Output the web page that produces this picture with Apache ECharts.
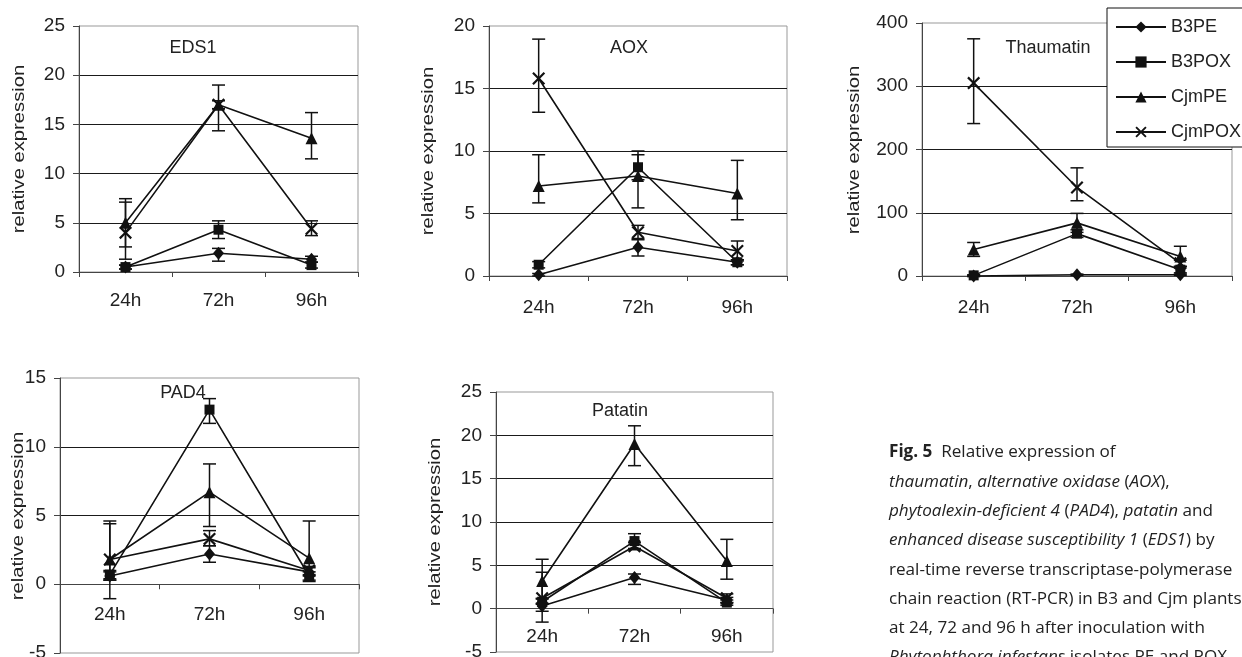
<!DOCTYPE html>
<html>
<head>
<meta charset="utf-8">
<script src="https://cdn.jsdelivr.net/npm/echarts@6/dist/echarts.min.js"></script>
<style>
html,body{margin:0;padding:0;background:#fff;}
#chart{width:1242px;height:657px;}
</style>
</head>
<body>
<div id="chart"></div>
<script>
// ---------- DATA ----------
const categories = ['24h', '72h', '96h'];
const seriesNames = ['B3PE', 'B3POX', 'CjmPE', 'CjmPOX'];

// EDS1
const eds1Values   = [[0.5, 1.9, 1.3], [0.5, 4.3, 0.7], [5.0, 17.0, 13.6], [4.0, 17.0, 4.4]];
const eds1ErrUp    = [[0.2, 0.5, 0.3], [0.2, 0.9, 0.3], [2.45, 2.0, 2.6], [3.1, 0.4, 0.8]];
const eds1ErrDown  = [[0.2, 0.8, 0.3], [0.2, 0.9, 0.3], [2.45, 2.65, 2.1], [2.7, 0.4, 0.7]];
const eds1Ticks    = [0, 25, 5];

// AOX
const aoxValues    = [[0.1, 2.3, 1.1], [0.9, 8.7, 1.1], [7.2, 8.0, 6.6], [15.8, 3.5, 2.0]];
const aoxErrUp     = [[0.1, 0.6, 0.2], [0.25, 1.0, 0.2], [2.5, 2.0, 2.65], [3.15, 0.55, 0.8]];
const aoxErrDown   = [[0.1, 0.7, 0.2], [0.25, 1.0, 0.2], [1.35, 2.55, 2.1], [2.7, 0.5, 0.8]];
const aoxTicks     = [0, 20, 5];

// Thaumatin
const thaumValues  = [[0, 2, 2], [1, 67, 10], [42, 84, 31], [305, 140, 20]];
const thaumErrUp   = [[1, 1, 1], [1, 6, 5], [11, 15, 16], [70, 31, 5]];
const thaumErrDown = [[1, 1, 1], [1, 6, 5], [11, 15, 16], [64, 21, 5]];
const thaumTicks   = [0, 400, 100];

// PAD4
const pad4Values   = [[0.6, 2.2, 0.9], [0.7, 12.7, 0.6], [1.8, 6.7, 1.9], [1.8, 3.3, 1.0]];
const pad4ErrUp    = [[0.3, 0.6, 0.3], [0.3, 0.8, 0.3], [2.8, 2.05, 2.7], [2.6, 0.6, 0.3]];
const pad4ErrDown  = [[1.65, 0.6, 0.3], [0.3, 1.0, 0.3], [1.5, 2.5, 1.7], [1.5, 0.5, 0.3]];
const pad4Ticks    = [-5, 15, 5];

// Patatin
const patValues    = [[0.3, 3.6, 1.0], [0.8, 7.8, 0.7], [3.2, 19.0, 5.5], [1.2, 7.2, 1.2]];
const patErrUp     = [[0.3, 0.4, 0.3], [0.3, 0.85, 0.3], [2.5, 2.1, 2.5], [3.0, 0.4, 0.5]];
const patErrDown   = [[1.85, 0.8, 0.3], [0.3, 0.85, 0.3], [2.0, 2.5, 2.1], [1.5, 0.4, 0.5]];
const patTicks     = [-5, 25, 5];

const captionLines = [
  '{b|Fig. 5}  Relative expression of',
  '{i|thaumatin}, {i|alternative oxidase} ({i|AOX}),',
  '{i|phytoalexin-deficient 4} ({i|PAD4}), {i|patatin} and',
  '{i|enhanced disease susceptibility 1} ({i|EDS1}) by',
  'real-time reverse transcriptase-polymerase',
  'chain reaction (RT-PCR) in B3 and Cjm plants',
  'at 24, 72 and 96 h after inoculation with',
  '{i|Phytophthora infestans} isolates PE and POX'
];

// ---------- LAYOUT ----------
const FONT = "'Liberation Sans', Arial, sans-serif";
const CAP_FONT = "'Open Sans', sans-serif";
const INK = '#111';
const panels = [
  {title: 'EDS1', values: eds1Values, up: eds1ErrUp, down: eds1ErrDown, ticks: eds1Ticks,
   grid: {left: 79, top: 26, width: 279, height: 246}, titlePos: [193, 48], yNamePos: [20, 149], xMargin: 19},
  {title: 'AOX', values: aoxValues, up: aoxErrUp, down: aoxErrDown, ticks: aoxTicks,
   grid: {left: 489, top: 26, width: 298, height: 250}, titlePos: [629, 48], yNamePos: [429, 151], xMargin: 22},
  {title: 'Thaumatin', values: thaumValues, up: thaumErrUp, down: thaumErrDown, ticks: thaumTicks,
   grid: {left: 922, top: 23, width: 310, height: 253}, titlePos: [1048, 48], yNamePos: [855, 150], xMargin: 22},
  {title: 'PAD4', values: pad4Values, up: pad4ErrUp, down: pad4ErrDown, ticks: pad4Ticks,
   grid: {left: 60, top: 378, width: 299, height: 275}, titlePos: [183, 393], yNamePos: [19, 516], xMargin: 21},
  {title: 'Patatin', values: patValues, up: patErrUp, down: patErrDown, ticks: patTicks,
   grid: {left: 496, top: 392, width: 277, height: 260}, titlePos: [620, 411], yNamePos: [436, 522], xMargin: 19}
];

const xSymbol = 'path://M0,1.2L1.2,0L5,3.8L8.8,0L10,1.2L6.2,5L10,8.8L8.8,10L5,6.2L1.2,10L0,8.8L3.8,5Z';
const symbols = ['diamond', 'rect', 'triangle', xSymbol];
const symbolSizes = [[11, 13], 10, 12, 13];

function errRender(params, api) {
  const x = api.value(0);
  const lo = api.coord([x, api.value(2)]);
  const hi = api.coord([x, api.value(3)]);
  const w = 6.5;
  const style = {stroke: INK, lineWidth: 1.5};
  return {type: 'group', children: [
    {type: 'line', shape: {x1: lo[0], y1: lo[1], x2: hi[0], y2: hi[1]}, style: style},
    {type: 'line', shape: {x1: lo[0] - w, y1: lo[1], x2: lo[0] + w, y2: lo[1]}, style: style},
    {type: 'line', shape: {x1: hi[0] - w, y1: hi[1], x2: hi[0] + w, y2: hi[1]}, style: style}
  ]};
}

const grids = [], xAxes = [], yAxes = [], series = [], graphics = [];
panels.forEach(function (p, pi) {
  grids.push(Object.assign({show: true, borderColor: '#999', borderWidth: 1, backgroundColor: '#fff',
    containLabel: false, outerBoundsMode: 'none'}, p.grid));
  // place the category axis at value 0 of the value scale
  const zeroOffset = -p.grid.height * (0 - p.ticks[0]) / (p.ticks[1] - p.ticks[0]);
  xAxes.push({
    type: 'category', gridIndex: pi, data: categories, boundaryGap: true, position: 'bottom',
    offset: zeroOffset,
    axisLine: {show: true, onZero: false, lineStyle: {color: '#444', width: 1}},
    axisTick: {show: true, length: 5, inside: false, lineStyle: {color: '#444'}},
    axisLabel: {color: '#222', fontFamily: FONT, fontSize: 19, margin: p.xMargin},
    splitLine: {show: false}
  });
  yAxes.push({
    type: 'value', gridIndex: pi, min: p.ticks[0], max: p.ticks[1], interval: p.ticks[2],
    axisLine: {show: true, lineStyle: {color: '#444', width: 1}},
    axisTick: {show: true, length: 6, lineStyle: {color: '#444'}},
    axisLabel: {color: '#222', fontFamily: FONT, fontSize: 19, margin: 14},
    splitLine: {show: true, showMinLine: false, showMaxLine: false, lineStyle: {color: '#1a1a1a', width: 1}}
  });
  p.values.forEach(function (vals, si) {
    series.push({
      type: 'line', name: seriesNames[si], xAxisIndex: pi, yAxisIndex: pi,
      data: vals, symbol: symbols[si], symbolSize: symbolSizes[si], showAllSymbol: true,
      lineStyle: {color: INK, width: 1.6}, itemStyle: {color: INK, borderWidth: 0},
      emphasis: {disabled: true}, z: 3, clip: false
    });
    series.push({
      type: 'custom', name: 'err-' + p.title + '-' + si, xAxisIndex: pi, yAxisIndex: pi,
      renderItem: errRender, z: 2, silent: true,
      encode: {x: 0, y: [2, 3]},
      data: vals.map(function (v, i) { return [i, v, v - p.down[si][i], v + p.up[si][i]]; })
    });
  });
  graphics.push({
    type: 'text', x: p.titlePos[0], y: p.titlePos[1], z: 10,
    style: {text: p.title, fontFamily: FONT, fontSize: 18, fill: '#222', align: 'center', verticalAlign: 'middle'}
  });
  graphics.push({
    type: 'text', x: p.yNamePos[0], y: p.yNamePos[1], rotation: Math.PI / 2, scaleX: 1.24, z: 10,
    style: {text: 'relative expression', fontFamily: FONT, fontSize: 16.3, fill: '#222', align: 'center', verticalAlign: 'middle'}
  });
});

captionLines.forEach(function (line, i) {
  graphics.push({
    type: 'text', x: 889, y: 461 + i * 29.3, z: 10,
    style: {
      text: line, fontFamily: CAP_FONT, fontSize: 17.1, fill: '#222',
      align: 'left', verticalAlign: 'bottom',
      rich: {
        b: {fontWeight: 'bold', fontFamily: CAP_FONT, fontSize: 17.1, fill: '#222'},
        i: {fontStyle: 'italic', fontFamily: CAP_FONT, fontSize: 17.1, fill: '#222'}
      }
    }
  });
});

const chart = echarts.init(document.getElementById('chart'), null, {renderer: 'canvas'});
chart.setOption({
  animation: false,
  backgroundColor: '#fff',
  legend: {
    data: seriesNames, orient: 'vertical', left: 1107, top: 8,
    itemWidth: 50, itemHeight: 14, itemGap: 17,
    padding: [10, 10, 6, 8],
    backgroundColor: '#fff', borderColor: '#111', borderWidth: 1, borderRadius: 0,
    textStyle: {fontFamily: FONT, fontSize: 18, color: '#222', lineHeight: 18},
    selectedMode: false, z: 20
  },
  grid: grids, xAxis: xAxes, yAxis: yAxes, series: series, graphic: graphics
});
</script>
</body>
</html>
